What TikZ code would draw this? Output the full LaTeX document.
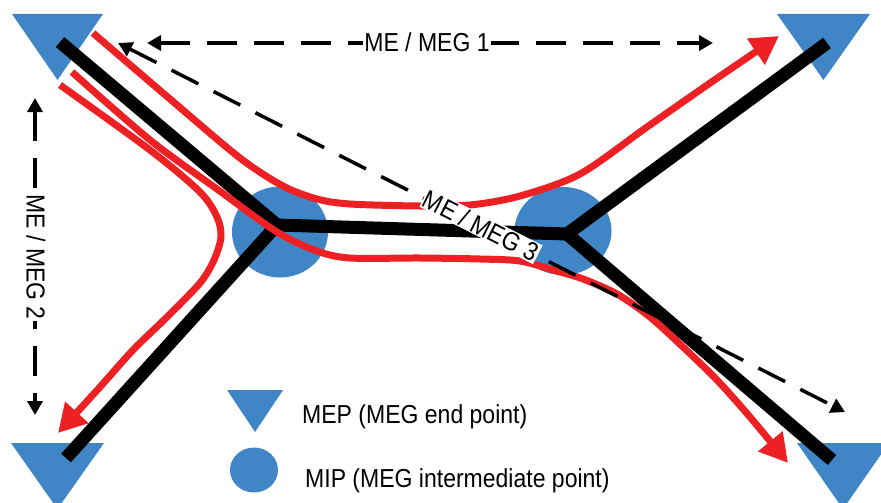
\documentclass[tikz,border=0pt]{standalone}
\usepackage{fontspec}
\setmainfont{Liberation Sans}[FakeStretch=0.885]
\usetikzlibrary{arrows.meta,shapes.geometric}
\definecolor{mblue}{RGB}{64,134,199}
\definecolor{mred}{RGB}{237,32,36}
\begin{document}
\begin{tikzpicture}[x=1pt,y=-1pt,
  blk/.style={line width=13pt, black, line join=miter},
  rline/.style={line width=7pt, mred, -{Triangle[length=28pt,width=30pt]}},
  dline/.style={line width=3.5pt, black, dash pattern=on 30pt off 17pt,
     {Triangle[length=14pt,width=15pt]}-{Triangle[length=14pt,width=15pt]}},
  lbl/.style={font=\fontsize{26}{30}\selectfont, fill=white, inner sep=1pt},
  lgd/.style={font=\fontsize{26}{30}\selectfont, inner sep=0pt, anchor=base west},
  mep/.style={fill=mblue},
  mip/.style={ellipse, fill=mblue, inner sep=0pt}]
\useasboundingbox (0,0) rectangle (881,503);
% MEP triangles
\fill[mep] (12,14) -- (103,14) -- (57.5,80) -- cycle;
\fill[mep] (777,14) -- (870,14) -- (823.5,80) -- cycle;
\fill[mep] (11,443) -- (104,443) -- (57.5,509) -- cycle;
\fill[mep] (797,443) -- (889,443) -- (843,509) -- cycle;
% MIP circles
\node[mip, minimum width=96pt, minimum height=91pt] (mipL) at (280,232) {};
\node[mip, minimum width=97pt, minimum height=88pt] (mipR) at (563,231) {};
% black MEG
\coordinate (E1) at (60,42);
\coordinate (E2) at (827,43);
\coordinate (E3) at (66,458);
\coordinate (E4) at (832,460);
\coordinate (J1) at (277,225);
\coordinate (J2) at (567,234);
\draw[blk] (E1) -- (J1) -- (J2) -- (E2);
\draw[blk] (E3) -- (J1);
\draw[blk] (J2) -- (E4);
% red flows
\draw[rline] plot[smooth, tension=0.5] coordinates {(93,33) (170,99) (240,158) (283,186) (317,199) (350,204) (420,206) (470,205) (520,196) (580,174) (647,127) (713,81) (779,36)};
\draw[rline] plot[smooth, tension=0.5] coordinates {(72,72) (150,140) (217,189) (277,232) (317,251) (350,258) (420,258) (480,259) (520,261) (553,270) (583,279) (617,294) (650,317) (683,347) (717,380) (750,417) (788,463)};
\draw[rline] plot[smooth, tension=0.5] coordinates {(60,85) (150,150) (200,192) (217,217) (221,237) (214,260) (200,283) (167,317) (133,350) (100,387) (58,433)};
% dashed ME/MEG arrows
\coordinate (d1a) at (147,43);
\coordinate (d1b) at (713,43);
\coordinate (d2a) at (35,98);
\coordinate (d2b) at (35,415);
\coordinate (d3a) at (118,43);
\coordinate (d3b) at (845,412);
\draw[dline] (d1a) -- (d1b);
\draw[dline] (d2a) -- (d2b);
\draw[dline] (d3a) -- (d3b);
\node[lbl, anchor=base] (m1) at (427,52) {ME / MEG 1};
\node[lbl, rotate=-90] (m2) at (36,257) {ME / MEG 2};
\node[lbl, rotate=-26.9] (m3) at (481,226) {ME / MEG 3};
% legend
\fill[mep] (227,390) -- (283,390) -- (255,432) -- cycle;
\node[mip, minimum width=48pt, minimum height=45pt] (lgC) at (254,470) {};
\node[lgd] (lg1) at (302,423) {MEP (MEG end point)};
\node[lgd] (lg2) at (305,487) {MIP (MEG intermediate point)};
\end{tikzpicture}
\end{document}
